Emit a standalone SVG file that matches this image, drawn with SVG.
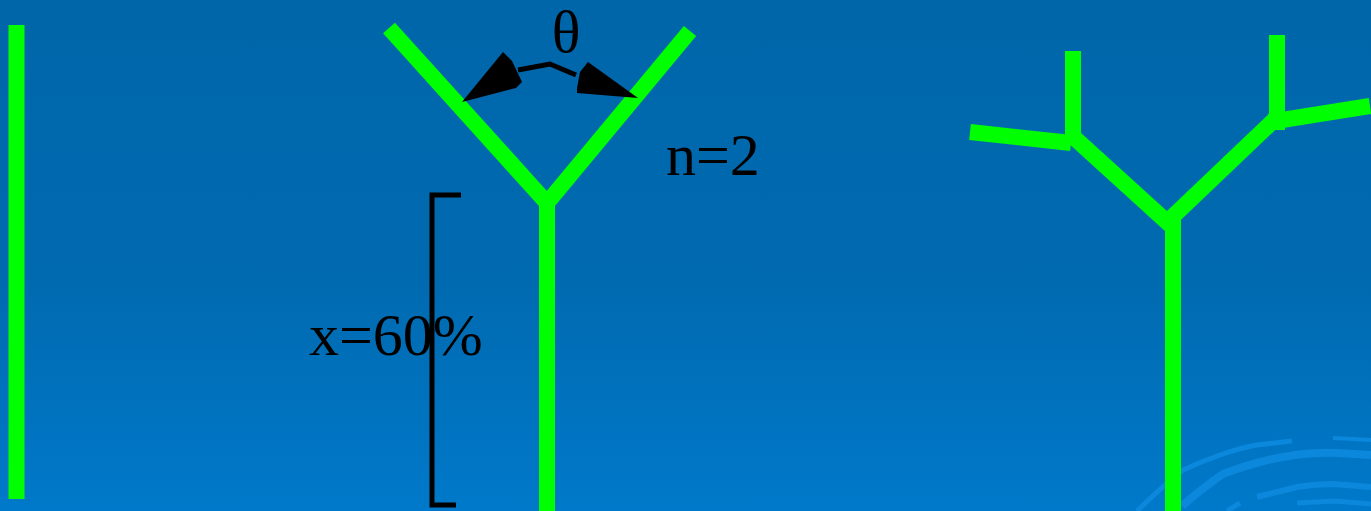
<svg xmlns="http://www.w3.org/2000/svg" width="1371" height="511" viewBox="0 0 1371 511">
<defs>
<linearGradient id="bg" x1="0" y1="0" x2="0" y2="1">
<stop offset="0" stop-color="#0066AA"/>
<stop offset="0.55" stop-color="#006AB0"/>
<stop offset="1" stop-color="#0079CA"/>
</linearGradient>
</defs>
<style>
.g{stroke:#00FF00;stroke-width:16;fill:none;stroke-linecap:butt}
.k{stroke:#000;fill:none}
.t{font-family:"Liberation Serif","Times New Roman",serif;font-size:60px;fill:#000}
.sw{stroke:#0B87DC;fill:none;stroke-linecap:butt}
</style>
<rect width="1371" height="511" fill="url(#bg)"/>
<g id="swirl">
<path class="sw" stroke-width="5" d="M1137,511 Q1165,484 1183,470 Q1200,462 1220,455 Q1240,448 1257,445 L1292,441"/>
<path class="sw" stroke-width="8" d="M1182,506 Q1200,490 1223,474 Q1260,460 1295,455 Q1320,452 1337,453 L1371,455"/>
<path class="sw" stroke-width="4" d="M1333,438 L1371,440"/>
<path class="sw" stroke-width="6" d="M1257,497 L1297,487 Q1315,484 1333,484 L1371,487"/>
<path class="sw" stroke-width="5" d="M1227,511 L1240,503"/>
<path class="sw" stroke-width="5" d="M1297,503 L1335,501 L1371,504"/>
</g>
<g id="stem1">
<line class="g" x1="16.5" y1="25" x2="16.5" y2="499"/>
</g>
<g id="tree2">
<polyline class="g" points="389,28 547,203 690,31"/>
<line class="g" x1="547" y1="200" x2="547" y2="511"/>
</g>
<g id="tree3">
<line class="g" x1="1173" y1="213" x2="1173" y2="511"/>
<polyline class="g" points="1068,132 1167,222 1273,121"/>
<line class="g" x1="1073" y1="51" x2="1073" y2="140"/>
<line class="g" x1="970" y1="132" x2="1071" y2="143"/>
<line class="g" x1="1277" y1="35" x2="1277" y2="130"/>
<line class="g" x1="1269" y1="122" x2="1370" y2="106"/>
</g>
<g id="angle">
<polyline class="k" stroke-width="5" points="518,70 550,64 576,75"/>
<polygon fill="#000" points="462,102 503,52 512,61 522,82 516,88"/>
<polygon fill="#000" points="638,98 588,62 580,72 577,88 577,93"/>
<text class="t" x="566" y="52" text-anchor="middle">θ</text>
</g>
<g id="label-n">
<text class="t" x="666" y="175">n=2</text>
</g>
<g id="bracket">
<polyline class="k" stroke-width="5" points="461,195 432,195 432,505 456,505"/>
<text class="t" x="309" y="355">x=60%</text>
</g>
</svg>
